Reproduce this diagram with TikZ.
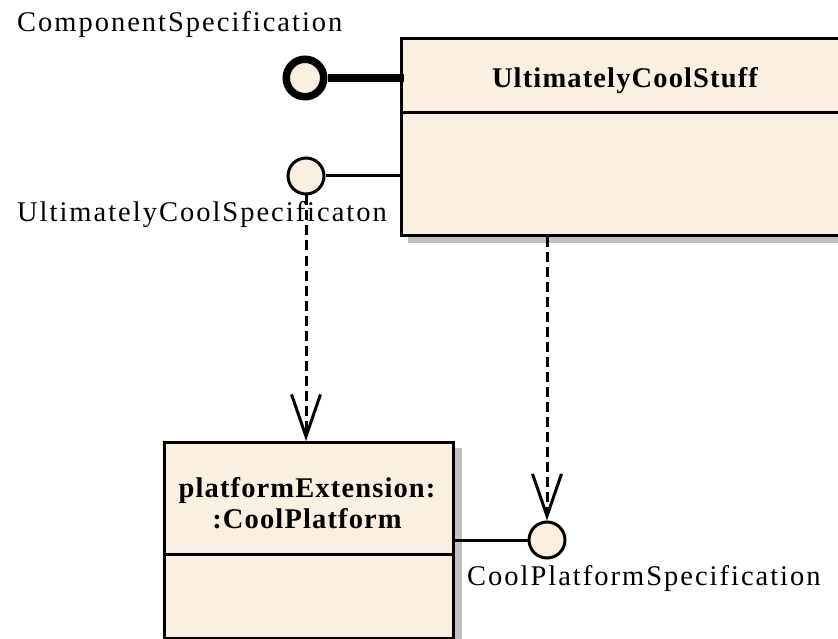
\documentclass[tikz,border=0pt]{standalone}
\usepackage{fontspec}
\setmainfont{Liberation Serif}
\usetikzlibrary{arrows.meta}
\definecolor{umlfill}{HTML}{FAF0E1}
\definecolor{umlshadow}{HTML}{C0C0C0}
\newfontfamily\lblfont[LetterSpace=7]{Liberation Serif}
\newfontfamily\boxfont[LetterSpace=4]{Liberation Serif Bold}
\tikzset{
  classbox/.style={draw=black, fill=umlfill, line width=3pt, rectangle, inner sep=0pt, anchor=north west},
  iface/.style={circle, draw=black, fill=umlfill, line width=3pt, minimum size=36pt, inner sep=0pt},
  bigface/.style={circle, draw=black, fill=umlfill, line width=7.5pt, minimum size=37.5pt, inner sep=0pt},
  divider/.style={draw=black, line width=3pt},
  link/.style={draw=black, line width=3pt},
  thicklink/.style={draw=black, line width=8pt},
  depend/.style={draw=black, line width=3pt, dash pattern=on 10pt off 5pt,
    -{Straight Barb[length=42pt, width=29pt, line width=3pt]}},
  lbl/.style={font=\lblfont\fontsize{28.5}{31}\selectfont, inner sep=0pt},
  title/.style={font=\boxfont\fontsize{28.5}{31}\selectfont, inner sep=0pt, align=center},
}
\begin{document}
\begin{tikzpicture}[x=1pt, y=-1pt]
  \clip (0,0) rectangle (838,639);
  \fill[white] (0,0) rectangle (838,639);

  % drop shadows
  \fill[umlshadow] (408,45) rectangle (858,243);
  \fill[umlshadow] (452,448) rectangle (462,660);

  % component UltimatelyCoolStuff
  \node[classbox, minimum width=450pt, minimum height=197pt] (stuff) at (400,37) {};
  \draw[divider] (400,113) -- (850,113);
  \node[title, anchor=base] (stufftitle) at (625,88) {UltimatelyCoolStuff};

  % part platformExtension
  \node[classbox, minimum width=289pt, minimum height=196pt] (ext) at (163,441) {};
  \draw[divider] (163,554) -- (452,554);
  \node[title, anchor=base] (extline1) at (307,497) {platformExtension:};
  \node[title, anchor=base] (extline2) at (307,528) {:CoolPlatform};

  % provided interfaces
  \node[bigface] (cspec) at (305,78) {};
  \node[iface] (ucspec) at (306,176) {};
  \node[iface] (cpspec) at (547,540) {};

  \draw[thicklink] (cspec.east) -- ([xshift=4pt]cspec.east -| stuff.west);
  \draw[link] (ucspec.east) -- (ucspec.east -| stuff.west);
  \draw[link] (cpspec.west) -- (cpspec.west -| ext.east);

  % interface names
  \node[lbl, anchor=base west] (cspeclbl) at (17,32) {ComponentSpecification};
  \node[lbl, anchor=base west] (ucspeclbl) at (17,222) {UltimatelyCoolSpecificaton};
  \node[lbl, anchor=base west] (cpspeclbl) at (467,585) {CoolPlatformSpecification};

  % dependencies
  \draw[depend] (ucspec.south) -- (ucspec.south |- ext.north);
  \draw[depend] (cpspec.north |- stuff.south) -- (cpspec.north);
\end{tikzpicture}
\end{document}
